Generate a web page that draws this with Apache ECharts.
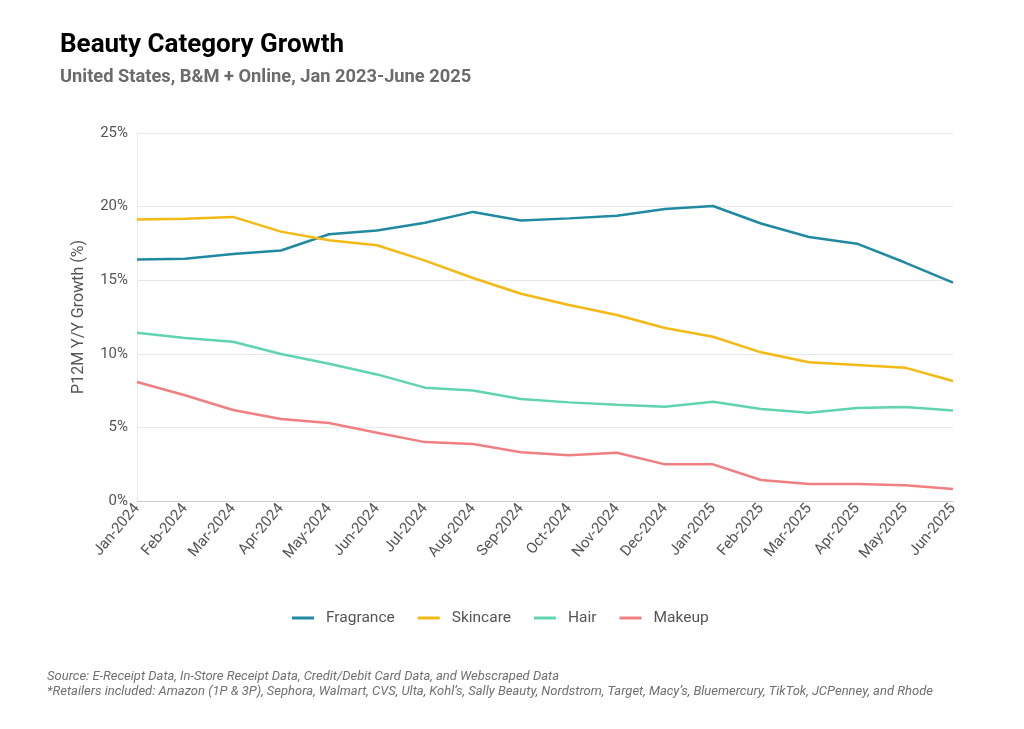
<!DOCTYPE html>
<html>
<head>
<meta charset="utf-8">
<script src="https://cdn.jsdelivr.net/npm/echarts@6/dist/echarts.min.js"></script>
<style>html,body{margin:0;padding:0;background:#fff}#c{width:1024px;height:729px}</style>
</head>
<body>
<div id="c"></div>
<script>
var categories = ["Jan-2024","Feb-2024","Mar-2024","Apr-2024","May-2024","Jun-2024","Jul-2024","Aug-2024","Sep-2024","Oct-2024","Nov-2024","Dec-2024","Jan-2025","Feb-2025","Mar-2025","Apr-2025","May-2025","Jun-2025"];
var fragrance = [16.4,16.45,16.78,17.02,18.12,18.37,18.9,19.64,19.05,19.2,19.38,19.84,20.04,18.85,17.93,17.48,16.2,14.83];
var skincare = [19.12,19.18,19.3,18.3,17.71,17.37,16.33,15.15,14.08,13.32,12.64,11.75,11.16,10.1,9.42,9.24,9.06,8.15];
var hair = [11.43,11.07,10.82,9.99,9.33,8.6,7.7,7.5,6.93,6.7,6.54,6.41,6.75,6.25,6.0,6.32,6.39,6.14];
var makeup = [8.08,7.18,6.18,5.57,5.3,4.64,4.0,3.87,3.31,3.1,3.28,2.49,2.49,1.43,1.15,1.15,1.07,0.82];
var seriesNames = ["Fragrance","Skincare","Hair","Makeup"];
var colors = ["#1f8aa0","#f5b914","#60d3b0","#ef7f80"];

var chart = echarts.init(document.getElementById('c'));
var dataSets = [fragrance, skincare, hair, makeup];
chart.setOption({
  backgroundColor: '#fff',
  textStyle: {fontFamily: 'Roboto'},
  title: [
    {text: 'Beauty Category Growth', left: 55, top: 27, textStyle: {fontFamily:'Roboto', fontSize: 26, fontWeight: 'bold', color: '#000'}},
    {text: 'United States, B&M + Online, Jan 2023-June 2025', left: 55, top: 63, textStyle: {fontFamily:'Roboto', fontSize: 18.3, fontWeight: 'bold', color: '#6b6b6b'}}
  ],
  legend: {
    data: seriesNames, bottom: 98, left: 287, itemWidth: 22, itemHeight: 3, itemGap: 23,
    icon: 'rect',
    textStyle: {fontFamily:'Roboto', fontSize: 15.5, color: '#555', padding: [0,0,0,7]}
  },
  grid: {left: 137, right: 71, top: 133, bottom: 228},
  xAxis: {
    type: 'category', data: categories, boundaryGap: false,
    axisLine: {lineStyle: {color: '#cccccc', width: 1}},
    axisTick: {show: false},
    axisLabel: {rotate: 50, interval: 0, fontFamily:'Roboto', fontSize: 15, color: '#555', margin: 5},
    splitLine: {show: false}
  },
  yAxis: {
    type: 'value', min: 0, max: 25, interval: 5,
    name: 'P12M Y/Y Growth (%)', nameLocation: 'middle', nameGap: 50,
    nameTextStyle: {fontFamily:'Roboto', fontSize: 16, color: '#555'},
    axisLine: {show: true, lineStyle: {color: '#e8e8e8'}},
    axisTick: {show: false},
    axisLabel: {formatter: '{value}%', fontFamily:'Roboto', fontSize: 15, color: '#555', margin: 9},
    splitLine: {lineStyle: {color: '#e8e8e8', width: 1}}
  },
  series: dataSets.map(function(d, i){
    return {name: seriesNames[i], type: 'line', data: d, symbol: 'none', smooth: false,
      lineStyle: {width: 2.5, color: colors[i]}, itemStyle: {color: colors[i]}};
  }),
  graphic: [
    {type: 'text', left: 47, top: 670, style: {text: 'Source: E-Receipt Data, In-Store Receipt Data, Credit/Debit Card Data, and Webscraped Data', font: 'italic 13px Roboto', fill: '#707070'}},
    {type: 'text', left: 47, top: 685, style: {text: '*Retailers included: Amazon (1P & 3P), Sephora, Walmart, CVS, Ulta, Kohl\u2019s, Sally Beauty, Nordstrom, Target, Macy\u2019s, Bluemercury, TikTok, JCPenney, and Rhode', font: 'italic 13px Roboto', fill: '#707070'}}
  ]
});
</script>
</body>
</html>
